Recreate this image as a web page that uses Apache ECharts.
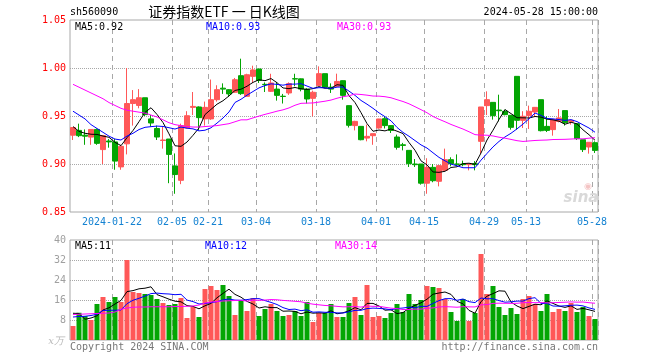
<!DOCTYPE html>
<html>
<head>
<meta charset="utf-8">
<script src="https://cdn.jsdelivr.net/npm/echarts@6/dist/echarts.min.js"></script>
<style>
html,body{margin:0;padding:0;background:#fff;}
#chart{width:660px;height:360px;}
</style>
</head>
<body>
<div id="chart"></div>
<script>
const dates = ['2024-01-11','2024-01-12','2024-01-15','2024-01-16','2024-01-17','2024-01-18','2024-01-19','2024-01-22','2024-01-23','2024-01-24','2024-01-25','2024-01-26','2024-01-29','2024-01-30','2024-01-31','2024-02-01','2024-02-02','2024-02-05','2024-02-06','2024-02-07','2024-02-08','2024-02-19','2024-02-20','2024-02-21','2024-02-22','2024-02-23','2024-02-26','2024-02-27','2024-02-28','2024-02-29','2024-03-01','2024-03-04','2024-03-05','2024-03-06','2024-03-07','2024-03-08','2024-03-11','2024-03-12','2024-03-13','2024-03-14','2024-03-15','2024-03-18','2024-03-19','2024-03-20','2024-03-21','2024-03-22','2024-03-25','2024-03-26','2024-03-27','2024-03-28','2024-03-29','2024-04-01','2024-04-02','2024-04-03','2024-04-08','2024-04-09','2024-04-10','2024-04-11','2024-04-12','2024-04-15','2024-04-16','2024-04-17','2024-04-18','2024-04-19','2024-04-22','2024-04-23','2024-04-24','2024-04-25','2024-04-26','2024-04-29','2024-04-30','2024-05-06','2024-05-07','2024-05-08','2024-05-09','2024-05-10','2024-05-13','2024-05-14','2024-05-15','2024-05-16','2024-05-17','2024-05-20','2024-05-21','2024-05-22','2024-05-23','2024-05-24','2024-05-27','2024-05-28'];

const openP = [0.930,0.935,0.930,0.928,0.936,0.915,0.924,0.923,0.897,0.921,0.963,0.961,0.969,0.947,0.937,0.9245,0.926,0.898,0.883,0.9375,0.959,0.9594,0.947,0.947,0.967,0.979,0.9774,0.9747,0.992,0.9705,0.9913,0.999,0.983,0.9757,0.978,0.9706,0.974,0.9889,0.9887,0.978,0.9684,0.9819,0.9941,0.980,0.9809,0.9868,0.9608,0.940,0.9392,0.927,0.9295,0.9375,0.9472,0.940,0.9281,0.920,0.9142,0.900,0.900,0.880,0.8965,0.882,0.8934,0.9045,0.900,0.900,0.8993,0.9003,0.9236,0.9608,0.9642,0.9562,0.9549,0.9507,0.9913,0.9455,0.9503,0.9542,0.967,0.9392,0.9358,0.9444,0.9556,0.944,0.942,0.9253,0.9177,0.9222];
const highP = [0.938,0.942,0.936,0.936,0.937,0.930,0.926,0.926,0.920,1.000,0.977,0.978,0.969,0.951,0.940,0.939,0.926,0.911,0.942,0.955,0.975,0.960,0.965,0.988,0.982,0.984,0.978,0.9896,1.0097,0.994,1.0024,0.999,0.985,0.994,0.9854,0.973,0.985,0.994,0.989,0.979,0.9764,1.0017,0.9941,0.984,0.9941,0.987,0.961,0.945,0.9392,0.941,0.9316,0.947,0.9497,0.940,0.9306,0.922,0.9142,0.9052,0.900,0.906,0.900,0.899,0.916,0.907,0.910,0.9035,0.900,0.903,0.9594,0.9757,0.9642,0.9722,0.9566,0.951,0.9913,0.955,0.9608,0.9594,0.967,0.9497,0.9469,0.9573,0.9556,0.946,0.942,0.9253,0.9226,0.9236];
const lowP = [0.925,0.928,0.920,0.920,0.920,0.900,0.917,0.894,0.894,0.910,0.940,0.958,0.950,0.939,0.925,0.916,0.880,0.869,0.879,0.937,0.951,0.935,0.940,0.946,0.965,0.973,0.970,0.974,0.972,0.970,0.9844,0.9844,0.975,0.975,0.966,0.963,0.972,0.981,0.9757,0.963,0.9497,0.981,0.979,0.974,0.980,0.967,0.938,0.935,0.9247,0.9236,0.920,0.9368,0.937,0.9323,0.915,0.9142,0.8969,0.8969,0.8785,0.869,0.881,0.8767,0.8924,0.8976,0.8976,0.8976,0.8934,0.8934,0.9108,0.951,0.9462,0.9444,0.9507,0.9358,0.9358,0.9375,0.9365,0.949,0.934,0.9333,0.9295,0.9434,0.940,0.941,0.925,0.9125,0.9108,0.9115];
const closeP = [0.938,0.9295,0.929,0.936,0.9215,0.9295,0.923,0.903,0.9184,0.963,0.967,0.969,0.9514,0.9427,0.9281,0.925,0.910,0.889,0.940,0.9503,0.960,0.9483,0.959,0.967,0.9774,0.978,0.973,0.9878,0.9733,0.993,0.998,0.987,0.9826,0.9844,0.9715,0.9703,0.9837,0.9885,0.978,0.9677,0.9747,0.9941,0.980,0.978,0.986,0.9715,0.9403,0.9444,0.9253,0.9288,0.9316,0.9469,0.940,0.935,0.9174,0.9194,0.9003,0.8993,0.880,0.8965,0.8826,0.8983,0.9045,0.9003,0.8997,0.8993,0.900,0.8993,0.9594,0.967,0.9503,0.9555,0.9514,0.9382,0.9455,0.9497,0.9549,0.959,0.9347,0.935,0.9462,0.948,0.943,0.9455,0.9264,0.915,0.9226,0.9142];
const volume = [5.6,10.9,9.6,8.0,14.4,17.2,15.2,17.2,15.2,32,19.2,18.8,18.4,18,16.4,14.8,14,14.4,16.8,8.8,13.2,9.2,20.4,21.6,20,22,17.6,10,16,11.6,16.8,9.6,12.4,14.4,11.6,9.6,10,11.6,9.6,15.2,7.2,10.8,10.8,14.4,9.2,9.2,14.8,17.2,10,22,9.2,9.6,8.8,10.8,14.4,11.2,18.4,14.4,16,21.6,21.2,20.8,16.4,11.2,7.6,16.4,7.6,10.8,34.4,18.4,21.6,13.2,10,12.8,10.4,16.4,17.6,14.4,11.6,18.4,11.2,12.4,11.6,14.8,11.2,13.2,9.6,8.4];

// moving-average values for the first days (their windows start before the chart)
const ma5Lead = [0.939,0.934,0.932,0.931];
const ma10Lead = [0.955,0.951,0.947,0.941,0.937,0.933,0.929,0.926,0.925];
const ma30Lead = [0.983,0.980,0.977,0.974,0.971,0.968,0.964,0.961,0.958,0.956,0.955,0.954,0.953,0.951,0.949,0.946,0.943,0.941,0.940,0.939,0.9385,0.9385,0.939,0.9395,0.940,0.941,0.942,0.944,0.946];
const vma5Lead = [10.7,10.6,8.3,8.8];
const vma10Lead = [9.2,9.4,9.5,9.8,10.3,11.8,11.9,11.9,12.0];
const vma30Lead = [10.2,10.3,10.4,10.5,10.6,10.7,10.8,11.2,12.3,12.8,13.1,13.2,13.2,13.3,13.3,13.3,13.3,13.4,13.4,13.5,13.6,14.0,14.8,15.2,15.4,15.6,15.7,15.8,15.9];

const tickDates = ['2024-01-22','2024-02-05','2024-02-21','2024-03-04','2024-03-18','2024-04-01','2024-04-15','2024-04-29','2024-05-13','2024-05-28'];
const priceTicks = [0.85, 0.90, 0.95, 1.00, 1.05];
const volTicks = [0, 8, 16, 24, 32, 40];

function movingAvg(vals, n, lead) {
  return vals.map((v, i) => {
    if (i < n - 1) return lead[i];
    let s = 0;
    for (let k = i - n + 1; k <= i; k++) s += vals[k];
    return +(s / n).toFixed(4);
  });
}

const ma5 = movingAvg(closeP, 5, ma5Lead);
const ma10 = movingAvg(closeP, 10, ma10Lead);
const ma30 = movingAvg(closeP, 30, ma30Lead);
const vma5 = movingAvg(volume, 5, vma5Lead);
const vma10 = movingAvg(volume, 10, vma10Lead);
const vma30 = movingAvg(volume, 30, vma30Lead);

const RED = '#ff5858';
const GREEN = '#03a503';
const GRID = '#a8a8a8';
const MONO = 'DejaVu Sans Mono';

const kData = dates.map((d, i) => [openP[i], closeP[i], lowP[i], highP[i]]);
const volData = volume.map((v, i) => ({
  value: v,
  itemStyle: { color: closeP[i] >= openP[i] ? RED : GREEN }
}));

const tickIdx = tickDates.map(d => dates.indexOf(d));
const isTick = (i) => tickIdx.indexOf(i) >= 0;

const last = a => a[a.length - 1];

function xAxisFor(gi, showLabel) {
  return {
    type: 'category', data: dates, gridIndex: gi, boundaryGap: true,
    axisLine: { show: false }, axisTick: { show: false },
    axisLabel: {
      show: showLabel,
      interval: (i) => isTick(i),
      formatter: (v) => v === tickDates[0] ? v : v.slice(5),
      color: '#1482d2', fontFamily: MONO, fontSize: 10, margin: 5,
      padding: [0, 6, 0, 0]
    },
    splitLine: { show: true, interval: (i) => isTick(i), lineStyle: { color: GRID, type: [5, 4], width: 1 } }
  };
}

function lineSeries(name, data, color, xi, yi) {
  return {
    name, type: 'line', data, xAxisIndex: xi, yAxisIndex: yi,
    symbol: 'none', showSymbol: false, smooth: false,
    lineStyle: { color, width: 1 }, itemStyle: { color }, z: 5, silent: true
  };
}

const txt = (x, y, text, fill) => ({
  type: 'text', x, y, z: 100,
  style: { text, fill, font: '10px "' + MONO + '"', textVerticalAlign: 'middle' }
});

const option = {
  animation: false,
  backgroundColor: '#fff',
  grid: [
    { left: 70, right: 62, top: 20, height: 192, show: true, borderColor: GRID, borderWidth: 1, backgroundColor: 'transparent' },
    { left: 70, right: 62, top: 240, height: 100, show: true, borderColor: GRID, borderWidth: 1, backgroundColor: 'transparent' }
  ],
  xAxis: [xAxisFor(0, true), xAxisFor(1, false)],
  yAxis: [
    {
      type: 'value', gridIndex: 0, min: priceTicks[0], max: last(priceTicks), interval: 0.05,
      axisLine: { show: false }, axisTick: { show: false },
      axisLabel: { color: '#ff0000', fontFamily: MONO, fontSize: 10, margin: 4, formatter: v => v.toFixed(2) },
      splitLine: { show: true, showMinLine: false, showMaxLine: false, lineStyle: { color: GRID, type: 'dotted', width: 1 } }
    },
    {
      type: 'value', gridIndex: 1, min: volTicks[0], max: last(volTicks), interval: 8,
      axisLine: { show: false }, axisTick: { show: false },
      axisLabel: { color: '#a0a0a0', fontFamily: MONO, fontSize: 10, margin: 4, formatter: v => v === 0 ? '' : String(v) },
      splitLine: { show: true, showMinLine: false, showMaxLine: false, lineStyle: { color: GRID, type: 'dotted', width: 1 } }
    }
  ],
  series: [
    {
      name: 'K', type: 'candlestick', data: kData, xAxisIndex: 0, yAxisIndex: 0,
      barWidth: 5,
      itemStyle: { color: RED, color0: GREEN, borderColor: RED, borderColor0: GREEN, borderWidth: 1 },
      z: 3, silent: true
    },
    lineSeries('MA5', ma5, '#000000', 0, 0),
    lineSeries('MA10', ma10, '#0000ff', 0, 0),
    lineSeries('MA30', ma30, '#ff00ff', 0, 0),
    { name: 'VOL', type: 'bar', data: volData, xAxisIndex: 1, yAxisIndex: 1, barWidth: 5, z: 3, silent: true },
    lineSeries('VMA5', vma5, '#000000', 1, 1),
    lineSeries('VMA10', vma10, '#0000ff', 1, 1),
    lineSeries('VMA30', vma30, '#ff00ff', 1, 1)
  ],
  graphic: [
    txt(70, 12, 'sh560090', '#000'),
    { type: 'text', x: 224, y: 12, z: 100, style: { text: '证券指数ETF 一 日K线图', fill: '#000', font: '14px "Noto Sans CJK SC"', textAlign: 'center', textVerticalAlign: 'middle' } },
    { type: 'text', x: 598, y: 12, z: 100, style: { text: last(dates) + ' 15:00:00', fill: '#000', font: '10px "' + MONO + '"', textAlign: 'right', textVerticalAlign: 'middle' } },
    txt(75, 27, 'MA5:' + last(ma5).toFixed(2), '#000'),
    txt(206, 27, 'MA10:' + last(ma10).toFixed(2), '#0000ff'),
    txt(337, 27, 'MA30:' + last(ma30).toFixed(2), '#ff00ff'),
    txt(75, 246, 'MA5:' + Math.floor(last(vma5)), '#000'),
    txt(205, 246, 'MA10:' + Math.floor(last(vma10)), '#0000ff'),
    txt(335, 246, 'MA30:' + Math.floor(last(vma30)), '#ff00ff'),
    { type: 'text', x: 64, y: 341, z: 100, style: { text: 'x万', fill: '#b8b8b8', font: 'italic 10px "DejaVu Serif"', textAlign: 'right', textVerticalAlign: 'middle' } },
    txt(70, 347, 'Copyright 2024 SINA.COM', '#777'),
    { type: 'text', x: 598, y: 347, z: 100, style: { text: 'http://finance.sina.com.cn', fill: '#777', font: '10px "' + MONO + '"', textAlign: 'right', textVerticalAlign: 'middle' } },
    { type: 'text', x: 581, y: 198, z: 1, style: { text: 'sina', fill: '#d9d9d9', font: 'italic bold 15px "DejaVu Sans"', textAlign: 'center', textVerticalAlign: 'middle' } },
    { type: 'text', x: 588, y: 187, z: 1, style: { text: '◉', fill: '#f4c4c4', font: '9px "DejaVu Sans"', textAlign: 'center', textVerticalAlign: 'middle' } }
  ]
};

const chart = echarts.init(document.getElementById('chart'), null, { renderer: 'canvas' });
chart.setOption(option);
</script>
</body>
</html>
